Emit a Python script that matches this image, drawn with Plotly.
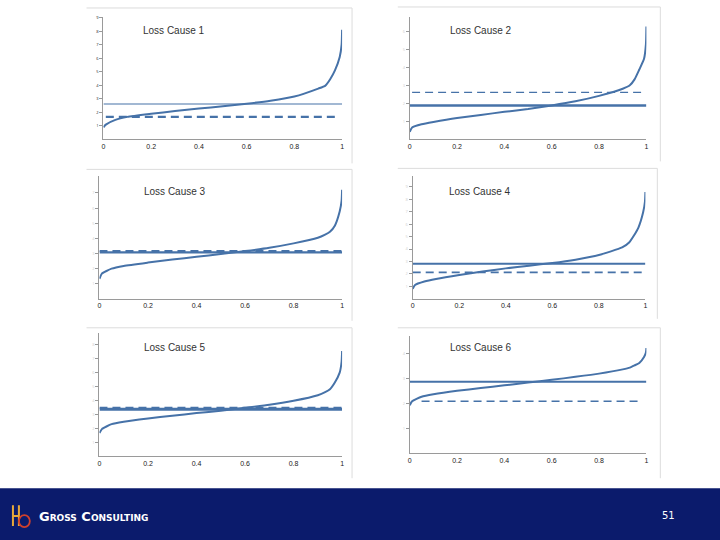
import plotly.graph_objects as go

# ---------------- data ----------------
titles = ["Loss Cause 1", "Loss Cause 2", "Loss Cause 3",
          "Loss Cause 4", "Loss Cause 5", "Loss Cause 6"]

percentiles = [0, 0.01, 0.05, 0.1, 0.2, 0.3, 0.4, 0.5, 0.6, 0.7, 0.8,
               0.9, 0.93, 0.95, 0.97, 0.99, 0.998, 1.0]

curve1 = [0.9, 1.1, 1.45, 1.67, 1.9, 2.1, 2.29, 2.45, 2.64, 2.86, 3.17,
          3.76, 3.98, 4.45, 5.1, 6.1, 7.0, 8.1]
curve2 = [0.43, 0.67, 0.85, 0.98, 1.2, 1.37, 1.54, 1.7, 1.9, 2.13, 2.43,
          2.83, 3.02, 3.35, 3.9, 4.5, 5.3, 6.3]
curve3 = [1.33, 1.67, 2.0, 2.18, 2.4, 2.6, 2.78, 2.96, 3.16, 3.38, 3.67,
          4.04, 4.25, 4.44, 4.84, 5.78, 6.5, 7.22]
curve4 = [0.8, 1.12, 1.39, 1.6, 1.92, 2.2, 2.45, 2.67, 2.88, 3.15, 3.52,
          4.13, 4.53, 5.07, 5.73, 6.93, 7.8, 8.59]
curve5 = [1.67, 1.95, 2.31, 2.48, 2.71, 2.91, 3.1, 3.26, 3.48, 3.69, 3.98,
          4.38, 4.6, 4.81, 5.29, 6.0, 6.8, 7.55]
curve6 = [1.93, 2.09, 2.27, 2.37, 2.51, 2.62, 2.73, 2.84, 2.95, 3.07, 3.2,
          3.37, 3.44, 3.53, 3.63, 3.87, 4.05, 4.23]
curves = [curve1, curve2, curve3, curve4, curve5, curve6]

solid_levels = [2.62, 1.89, 3.07, 2.83, 3.38, 2.87]
dashed_levels = [1.67, 2.63, 3.16, 2.13, 3.48, 2.09]
dashed_start = [0.01, 0.01, 0.0, 0.0, 0.0, 0.05]
dashed_end = [0.99, 0.98, 1.0, 1.0, 1.0, 0.98]

y_tick_counts = [9, 6, 7, 9, 8, 4]
y_tops = [9.05, 6.83, 8.1, 9.84, 8.86, 4.72]
x_ticks = [0, 0.2, 0.4, 0.6, 0.8, 1]
x_tick_labels = ["0", "0.2", "0.4", "0.6", "0.8", "1"]

footer_text = "Gross Consulting"
page_number = "51"

# ---------------- layout geometry (pixels of 720x540) ----------------
W, H = 720, 540
# (left, right, bottom axis y, top y)
boxes = [(102, 342, 138, 15), (410, 648, 138, 15),
         (98, 342, 298, 175), (413, 647, 298, 175),
         (98, 342, 456, 332), (410, 648, 453, 335)]
title_pos = [(140, 29), (448, 29), (141, 190), (447, 190), (141, 347), (448, 347)]
frames = [(85, 352, 6), (398, 662, 5), (85, 352, 168), (398, 659, 167),
          (85, 352, 327), (398, 662, 327)]
frame_bottoms = [162, 160, 320, 318, 478, 478]

solid_w = [1.2, 2.6, 2.2, 2.0, 3.0, 2.0]
dash_w = [2.2, 1.3, 2.0, 1.6, 2.0, 1.6]

blue = "#4672a8"
fig = go.Figure()
layout = {}
shapes = []
annotations = []

for i in range(6):
    n = "" if i == 0 else str(i + 1)
    xa, ya = "x" + n, "y" + n
    l, r, b, t = boxes[i]
    fig.add_trace(go.Scatter(x=percentiles, y=curves[i], mode="lines",
                             line=dict(color=blue, width=2, shape="spline", smoothing=0.5),
                             xaxis=xa, yaxis=ya, showlegend=False, hoverinfo="skip"))
    fig.add_trace(go.Scatter(x=[0, 1], y=[solid_levels[i]] * 2, mode="lines",
                             line=dict(color=blue, width=solid_w[i]),
                             xaxis=xa, yaxis=ya, showlegend=False, hoverinfo="skip"))
    fig.add_trace(go.Scatter(x=[dashed_start[i], dashed_end[i]], y=[dashed_levels[i]] * 2,
                             mode="lines",
                             line=dict(color=blue, width=dash_w[i], dash="8px,5px"),
                             xaxis=xa, yaxis=ya, showlegend=False, hoverinfo="skip"))

    layout["xaxis" + n] = dict(domain=[l / W, r / W], anchor=ya, range=[0, 1],
                               tickvals=x_ticks, ticktext=x_tick_labels,
                               tickfont=dict(size=7, color="#222", family="Liberation Sans"),
                               showgrid=False, zeroline=False, showline=True,
                               linecolor="#9a9a9a", linewidth=1, ticks="",
                               fixedrange=True)
    lab_col = "#222" if i == 0 else "#cfcfcf"
    layout["yaxis" + n] = dict(domain=[1 - b / H, 1 - t / H], anchor=xa,
                               range=[0, y_tops[i]],
                               tickvals=list(range(1, y_tick_counts[i] + 1)),
                               tickfont=dict(size=4, color=lab_col),
                               showgrid=False, zeroline=False, showline=True,
                               linecolor="#9a9a9a", linewidth=1, ticks="outside",
                               ticklen=3, tickcolor="#9a9a9a", fixedrange=True)
    # frame (top and right edges)
    fl, fr, ft = frames[i]
    fb = frame_bottoms[i]
    shapes.append(dict(type="line", xref="paper", yref="paper",
                       x0=fl / W, x1=fr / W, y0=1 - ft / H, y1=1 - ft / H,
                       line=dict(color="#dcdcdc", width=1)))
    shapes.append(dict(type="line", xref="paper", yref="paper",
                       x0=fr / W, x1=fr / W, y0=1 - ft / H, y1=1 - fb / H,
                       line=dict(color="#dcdcdc", width=1)))
    tx, ty = title_pos[i]
    annotations.append(dict(text=titles[i], xref="paper", yref="paper",
                            x=tx / W, y=1 - ty / H, xanchor="left", yanchor="middle",
                            showarrow=False,
                            font=dict(size=10, color="#333", family="Liberation Sans")))

# footer band
shapes.append(dict(type="rect", xref="paper", yref="paper", x0=-0.01, x1=1.01,
                   y0=-0.01, y1=1 - 488 / H, fillcolor="#0b1b6c", line=dict(width=0),
                   layer="below"))
# logo (stylised monogram)
shapes.append(dict(type="path", xref="paper", yref="paper",
                   path="M %f %f L %f %f M %f %f L %f %f M %f %f L %f %f" % (
                       11 / W, 1 - 505 / H, 11 / W, 1 - 526 / H,
                       17 / W, 1 - 505 / H, 17 / W, 1 - 526 / H,
                       11 / W, 1 - 516 / H, 17 / W, 1 - 516 / H),
                   line=dict(color="#e8a93a", width=2)))
shapes.append(dict(type="circle", xref="paper", yref="paper",
                   x0=17 / W, x1=28 / W, y0=1 - 527 / H, y1=1 - 515 / H,
                   line=dict(color="#d0402c", width=1.8)))
annotations.append(dict(text=footer_text, xref="paper", yref="paper",
                        x=35 / W, y=1 - 516 / H, xanchor="left", yanchor="middle",
                        showarrow=False,
                        font=dict(size=13, color="white", family="DejaVu Sans",
                                  variant="small-caps", weight="bold")))
annotations.append(dict(text=page_number, xref="paper", yref="paper",
                        x=670 / W, y=1 - 515 / H, xanchor="center", yanchor="middle",
                        showarrow=False,
                        font=dict(size=10, color="white", family="DejaVu Sans")))

fig.update_layout(width=W, height=H, margin=dict(l=0, r=0, t=0, b=0),
                  paper_bgcolor="white", plot_bgcolor="rgba(0,0,0,0)",
                  shapes=shapes, annotations=annotations, **layout)
fig.write_html("out.html", config={"displayModeBar": False},
               post_script="document.body.style.margin='0';document.body.style.overflow='hidden';")
